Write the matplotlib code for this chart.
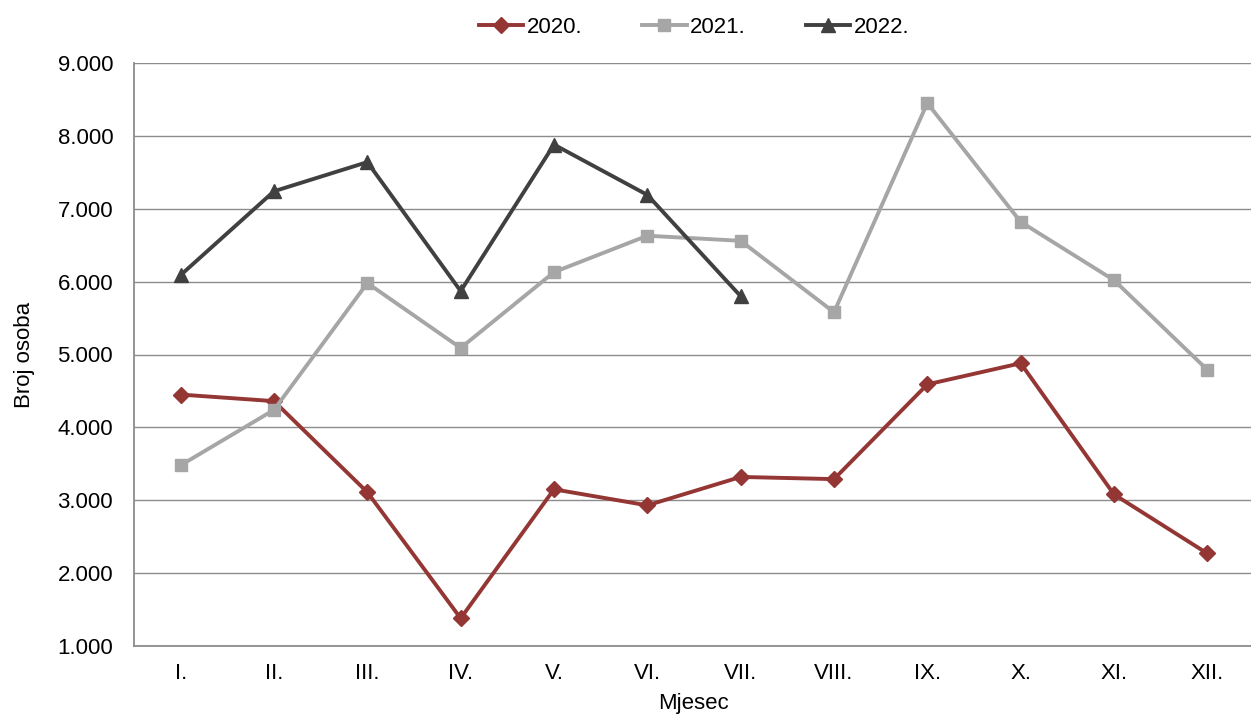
import matplotlib
matplotlib.use("Agg")
import matplotlib.pyplot as plt
from matplotlib.ticker import FuncFormatter

plt.rcParams['font.family'] = ['Liberation Sans', 'DejaVu Sans']

months = ["I.", "II.", "III.", "IV.", "V.", "VI.", "VII.", "VIII.", "IX.", "X.", "XI.", "XII."]
y2020 = [4450, 4360, 3110, 1380, 3150, 2930, 3320, 3290, 4590, 4880, 3080, 2270]
y2021 = [3480, 4240, 5980, 5090, 6130, 6630, 6560, 5580, 8450, 6820, 6020, 4790]
y2022 = [6090, 7240, 7640, 5870, 7880, 7190, 5800]

fig = plt.figure(figsize=(12.51, 7.15), dpi=100)
ax = fig.add_axes([134/1251, (715-646)/715, (1254-134)/1251, (646-63)/715])

x = list(range(len(months)))
ax.plot(x, y2020, color="#943634", lw=2.8, marker="D", ms=8, label="2020.")
ax.plot(x, y2021, color="#A6A6A6", lw=2.8, marker="s", ms=8, label="2021.")
ax.plot(x[:len(y2022)], y2022, color="#404040", lw=2.8, marker="^", ms=9.5, label="2022.")

ax.set_xlim(-0.5, 11.5)
ax.set_ylim(1000, 9000)
ax.set_yticks(range(1000, 9001, 1000))
ax.yaxis.set_major_formatter(FuncFormatter(lambda v, p: f"{int(v):,}".replace(",", ".")))
ax.set_xticks(x)
ax.set_xticklabels(months)
ax.tick_params(length=0, labelsize=16, colors="#000000")
ax.tick_params(axis='y', pad=15)
ax.tick_params(axis='x', pad=12)
ax.grid(axis='y', color="#8c8c8c", lw=1)
ax.set_axisbelow(True)
for s in ["top", "right"]:
    ax.spines[s].set_visible(False)
for s in ["left", "bottom"]:
    ax.spines[s].set_color("#8c8c8c")
    ax.spines[s].set_linewidth(1.3)

ax.set_ylabel("Broj osoba", fontsize=16, labelpad=16)
fig.text(694/1251, 1 - 704/715, "Mjesec", fontsize=16, ha="center", va="center")

ax.legend(loc="upper center", bbox_to_anchor=(0.5, 1 + 66/583), ncol=3, frameon=False,
          fontsize=16, handlelength=2.0, handletextpad=0.15, columnspacing=2.7)

fig.savefig("out.png", dpi=100)
